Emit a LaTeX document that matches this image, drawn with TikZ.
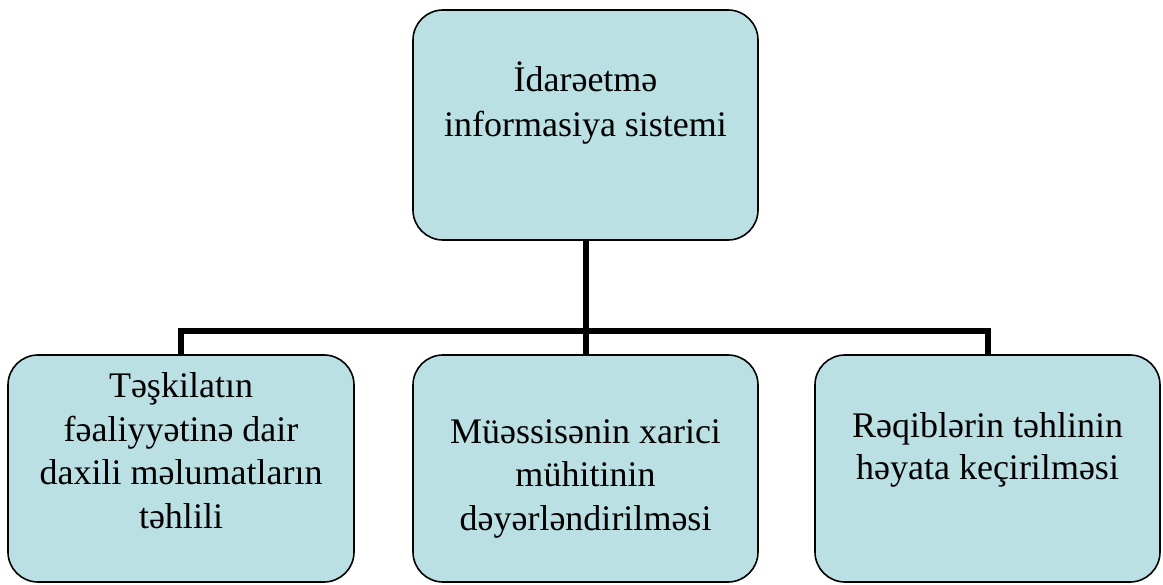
\documentclass[tikz,border=0pt]{standalone}
\usepackage{fontspec}
\setmainfont{Liberation Serif}
\definecolor{boxfill}{RGB}{187,224,227}
\begin{document}
\begin{tikzpicture}[x=1pt,y=-1pt,
  box/.style={draw=black, line width=1.6pt, fill=boxfill, rounded corners=30pt,
              inner sep=0pt, minimum width=345pt},
  % anchored at the baseline of the last line
  caption/.style={font=\fontsize{36}{43.5}\selectfont, align=center, inner sep=0pt, anchor=base},
  link/.style={line width=6pt}]
  \useasboundingbox (0,0) rectangle (1163,585);

  % boxes
  \node[box, minimum height=230pt] (top)   at (585.5,125)   {};
  \node[box, minimum height=227pt, minimum width=346pt] (left)  at (181,468.5) {};
  \node[box, minimum height=227pt] (mid)   at (585.5,468.5) {};
  \node[box, minimum height=227pt] (right) at (987.5,468.5) {};

  % connectors
  \coordinate (bus) at (585.5,331);
  \draw[link] (top.south) -- (bus);
  \draw[link] (left.north) |- (bus) -| (right.north);
  \draw[link] (bus) -- (mid.north);

  % box texts
  \node[caption, font=\fontsize{36}{45}\selectfont] (toptext) at (585.5,137)
    {İdarəetmə\\informasiya sistemi};
  \node[caption] (lefttext)  at (181,528)
    {Təşkilatın\\fəaliyyətinə dair\\daxili məlumatların\\təhlili};
  \node[caption] (midtext)   at (585.5,530)
    {Müəssisənin xarici\\mühitinin\\dəyərləndirilməsi};
  \node[caption, font=\fontsize{36}{42}\selectfont] (righttext) at (987.5,479)
    {Rəqiblərin təhlinin\\həyata keçirilməsi};
\end{tikzpicture}
\end{document}
